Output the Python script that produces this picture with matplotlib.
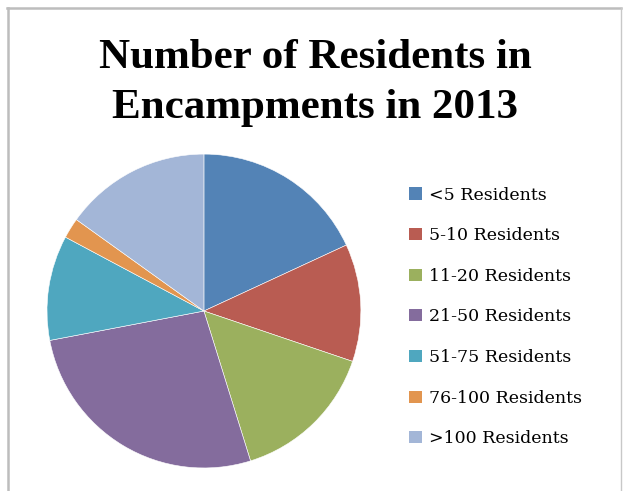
import matplotlib
matplotlib.use("Agg")
import matplotlib.pyplot as plt
from matplotlib.patches import Patch
from matplotlib.lines import Line2D

categories = ["<5 Residents", "5-10 Residents", "11-20 Residents", "21-50 Residents",
              "51-75 Residents", "76-100 Residents", ">100 Residents"]
shares = [18.1, 12.1, 15.0, 26.8, 10.8, 2.1, 15.1]
colors = ["#5383B6", "#B95C52", "#9BB05E", "#846C9D", "#4FA7BF", "#E2954F", "#A3B6D7"]
title_lines = ["Number of Residents in", "Encampments in 2013"]

fig = plt.figure(figsize=(6.24, 4.91), dpi=100)
ax = fig.add_axes([0.0753, 0.0468, 0.503, 0.6395])
ax.pie(shares, colors=colors, startangle=90, counterclock=False,
       wedgeprops=dict(edgecolor="white", linewidth=0.4))
ax.set_xlim(-1, 1)
ax.set_ylim(-1, 1)
ax.set_aspect("equal")

for txt, yb in zip(title_lines, [0.8615, 0.7597]):
    fig.text(0.505, yb, txt, ha="center", va="baseline", fontsize=31,
             fontweight="bold", family="Liberation Serif")

handles = [Patch(facecolor=c, edgecolor="none") for c in colors]
leg = fig.legend(handles, categories, loc="upper left", bbox_to_anchor=(0.645, 0.634),
                 frameon=False, prop=dict(family="DejaVu Serif", size=12.5),
                 handlelength=0.7, handleheight=0.7, handletextpad=0.42,
                 labelspacing=1.36, borderaxespad=0)

# frame lines of the chart area
fig.add_artist(Line2D([0.013, 0.013], [0, 0.984], transform=fig.transFigure, color="#BDBDBD", lw=1.8))
fig.add_artist(Line2D([0.012, 0.995], [0.984, 0.984], transform=fig.transFigure, color="#BDBDBD", lw=1.8))
fig.add_artist(Line2D([0.995, 0.995], [0, 0.984], transform=fig.transFigure, color="#C8C8C8", lw=1.0))

fig.savefig("out.png", dpi=100)
